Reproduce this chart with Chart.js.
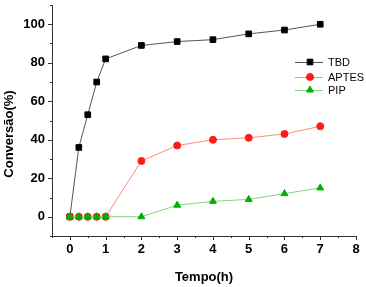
<!DOCTYPE html>
<html>
<head>
<meta charset="utf-8">
<script src="https://cdn.jsdelivr.net/npm/chart.js@4"></script>
<style>
  html, body { margin: 0; padding: 0; background: #fff; }
  #wrap { width: 366px; height: 287px; }
</style>
</head>
<body>
<div id="wrap"><canvas id="chart" width="366" height="287"></canvas></div>
<script>
// time in hours
const tempo = [0, 0.25, 0.5, 0.75, 1, 2, 3, 4, 5, 6, 7];
const tbd   = [0, 36, 53, 70, 82, 89, 91, 92, 95, 97, 100];
const aptes = [0, 0, 0, 0, 0, 29, 37, 40, 41, 43, 47];
const pip   = [0, 0, 0, 0, 0, 0, 6, 8, 9, 12, 15];
const xTicks = [0, 1, 2, 3, 4, 5, 6, 7, 8];
const yTicks = [0, 20, 40, 60, 80, 100];

const FONT = "'Liberation Sans', Arial, sans-serif";
const toPts = ys => tempo.map((t, i) => ({ x: t, y: ys[i] }));

// axis lines with major + minor ticks, drawn outward on left and bottom
const axisTicks = {
  id: "axisTicks",
  afterDraw(chart) {
    const ctx = chart.ctx, xs = chart.scales.x, ys = chart.scales.y;
    const a = chart.chartArea;
    ctx.save();
    ctx.strokeStyle = "#333";
    ctx.lineWidth = 1;
    ctx.beginPath();
    ctx.moveTo(a.left + 0.5, a.top);
    ctx.lineTo(a.left + 0.5, a.bottom + 0.5);
    ctx.lineTo(a.right, a.bottom + 0.5);
    for (let v = -0.5; v <= 8; v += 0.5) {
      const px = Math.round(xs.getPixelForValue(v)) + 0.5;
      const len = Number.isInteger(v) ? 4 : 2;
      ctx.moveTo(px, a.bottom);
      ctx.lineTo(px, a.bottom + len);
    }
    for (let v = -10; v <= 110; v += 10) {
      const py = Math.round(ys.getPixelForValue(v)) + 0.5;
      const len = v % 20 === 0 ? 4 : 2;
      ctx.moveTo(a.left, py);
      ctx.lineTo(a.left - len, py);
    }
    ctx.stroke();

    // y axis title (sits a bit below the axis centre in the original)
    ctx.fillStyle = "#000";
    ctx.font = "bold 13px " + FONT;
    ctx.textAlign = "center";
    ctx.textBaseline = "middle";
    ctx.translate(9, 134);
    ctx.rotate(-Math.PI / 2);
    ctx.fillText("Conversão(%)", 0, 0);
    ctx.restore();
  }
};

// legend with line + marker, like the original plot
const lineLegend = {
  id: "lineLegend",
  afterDraw(chart) {
    const ctx = chart.ctx;
    const x0 = 295, rowY = [62, 77, 90];
    chart.data.datasets.forEach((ds, i) => {
      const y = rowY[i];
      ctx.save();
      ctx.strokeStyle = ds.borderColor;
      ctx.lineWidth = 1;
      ctx.beginPath();
      ctx.moveTo(x0, y + 0.5);
      ctx.lineTo(x0 + 28, y + 0.5);
      ctx.stroke();
      ctx.fillStyle = ds.pointBackgroundColor;
      ctx.strokeStyle = ds.pointBorderColor;
      Chart.helpers.drawPoint(ctx, {
        pointStyle: ds.pointStyle, radius: ds.pointRadius, rotation: 0, borderWidth: 1
      }, x0 + 15, y);
      ctx.fillStyle = "#000";
      ctx.font = "11px " + FONT;
      ctx.textBaseline = "middle";
      ctx.fillText(ds.label, x0 + 33, y + 1);
      ctx.restore();
    });
  }
};

new Chart(document.getElementById("chart"), {
  type: "line",
  data: {
    datasets: [
      {
        label: "TBD",
        data: toPts(tbd),
        order: 2,
        borderColor: "#555",
        borderWidth: 1,
        pointStyle: "rect",
        pointRadius: 4,
        pointBackgroundColor: "#000",
        pointBorderColor: "#000",
        pointBorderWidth: 1
      },
      {
        label: "APTES",
        data: toPts(aptes),
        order: 1,
        borderColor: "#ff8a80",
        borderWidth: 1,
        pointStyle: "circle",
        pointRadius: 3.5,
        pointBackgroundColor: "#ff1a1a",
        pointBorderColor: "#ff1a1a",
        pointBorderWidth: 1
      },
      {
        label: "PIP",
        data: toPts(pip),
        order: 0,
        borderColor: "#7fd67f",
        borderWidth: 1,
        pointStyle: "triangle",
        pointRadius: 4,
        pointBackgroundColor: "#00b000",
        pointBorderColor: "#00b000",
        pointBorderWidth: 1
      }
    ]
  },
  options: {
    responsive: false,
    animation: false,
    layout: { padding: { top: 4, right: 10, left: 0, bottom: 0 } },
    plugins: { legend: { display: false }, tooltip: { enabled: false } },
    scales: {
      x: {
        type: "linear",
        min: -0.5,
        max: 8,
        afterBuildTicks: s => { s.ticks = xTicks.map(v => ({ value: v })); },
        afterFit: s => { s.height = 51; s.paddingLeft = 0; s.paddingRight = 0; },
        border: { display: false },
        grid: { display: false, drawTicks: false },
        ticks: {
          color: "#000",
          padding: 6,
          maxRotation: 0,
          font: { family: FONT, size: 13, weight: "bold" }
        },
        title: {
          display: true,
          text: "Tempo(h)",
          color: "#000",
          padding: { top: 4, bottom: 2 },
          font: { family: FONT, size: 13, weight: "bold" }
        }
      },
      y: {
        type: "linear",
        min: -10,
        max: 110,
        afterBuildTicks: s => { s.ticks = yTicks.map(v => ({ value: v })); },
        afterFit: s => { s.width = 52; s.paddingTop = 0; s.paddingBottom = 0; },
        border: { display: false },
        grid: { display: false, drawTicks: false },
        ticks: {
          color: "#000",
          padding: 7,
          font: { family: FONT, size: 13, weight: "bold" }
        },
        title: { display: false }
      }
    }
  },
  plugins: [axisTicks, lineLegend]
});
</script>
</body>
</html>
